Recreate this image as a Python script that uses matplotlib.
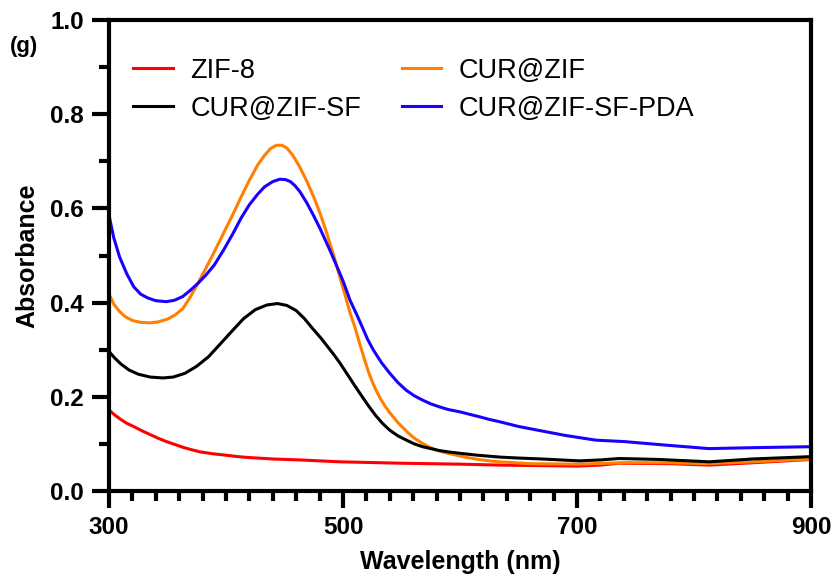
import matplotlib
matplotlib.use("Agg")
import matplotlib.pyplot as plt
from matplotlib.ticker import MultipleLocator, FixedLocator, FormatStrFormatter

plt.rcParams['font.family'] = ['Liberation Sans', 'DejaVu Sans']

# ---- data ----
wl_zif8 = [300, 305, 310, 315, 321, 328, 335, 342, 349, 356, 363, 370, 378, 389, 400, 410, 420, 440, 463, 497, 550, 600, 634, 700, 720, 736, 780, 813, 850, 900]
abs_zif8 = [0.172, 0.161, 0.152, 0.144, 0.137, 0.128, 0.120, 0.112, 0.105, 0.099, 0.093, 0.088, 0.083, 0.079, 0.076, 0.073, 0.071, 0.068, 0.066, 0.062, 0.059, 0.057, 0.055, 0.053, 0.055, 0.059, 0.058, 0.055, 0.060, 0.067]

wl_cur = [300, 304, 309, 314, 320, 327, 335, 342, 350, 356, 363, 369, 376, 383, 390, 398, 406, 413, 420, 427, 433, 438, 443, 448, 452, 457, 463, 469, 475, 480, 485, 489, 493, 498, 503, 506, 510, 514, 518, 522, 525, 528, 532, 536, 540, 547, 555, 561, 568, 574, 580, 588, 597, 606, 616, 625, 634, 660, 700, 740, 780, 810, 850, 900]
abs_cur = [0.418, 0.397, 0.381, 0.370, 0.362, 0.358, 0.357, 0.359, 0.365, 0.373, 0.387, 0.410, 0.441, 0.474, 0.508, 0.548, 0.588, 0.625, 0.660, 0.692, 0.713, 0.727, 0.734, 0.734, 0.728, 0.713, 0.688, 0.658, 0.624, 0.592, 0.556, 0.524, 0.492, 0.448, 0.405, 0.378, 0.349, 0.315, 0.282, 0.251, 0.232, 0.215, 0.196, 0.180, 0.166, 0.145, 0.125, 0.112, 0.101, 0.093, 0.087, 0.081, 0.076, 0.071, 0.067, 0.064, 0.062, 0.058, 0.057, 0.060, 0.060, 0.058, 0.062, 0.068]

wl_cursf = [300, 305, 310, 317, 325, 335, 346, 355, 365, 375, 385, 395, 406, 415, 425, 435, 444, 452, 460, 467, 474, 481, 487, 492, 497, 501, 506, 511, 517, 522, 528, 534, 540, 547, 555, 561, 568, 575, 582, 590, 600, 615, 634, 650, 670, 702, 720, 736, 770, 813, 850, 900]
abs_cursf = [0.296, 0.282, 0.270, 0.257, 0.248, 0.242, 0.240, 0.242, 0.250, 0.265, 0.285, 0.312, 0.342, 0.366, 0.385, 0.395, 0.398, 0.394, 0.383, 0.366, 0.345, 0.325, 0.306, 0.290, 0.273, 0.258, 0.239, 0.220, 0.198, 0.180, 0.160, 0.143, 0.129, 0.117, 0.107, 0.100, 0.094, 0.090, 0.086, 0.083, 0.080, 0.076, 0.072, 0.070, 0.068, 0.064, 0.066, 0.069, 0.067, 0.062, 0.068, 0.073]

wl_pda = [300, 304, 309, 315, 321, 327, 333, 340, 349, 356, 363, 369, 376, 383, 390, 398, 406, 413, 420, 427, 433, 440, 446, 451, 455, 459, 463, 469, 475, 480, 485, 489, 493, 500, 506, 512, 517, 521, 526, 533, 540, 547, 554, 561, 568, 575, 582, 590, 600, 608, 616, 625, 634, 650, 673, 690, 716, 740, 773, 813, 850, 898]
abs_pda = [0.585, 0.538, 0.497, 0.462, 0.434, 0.418, 0.410, 0.404, 0.402, 0.405, 0.413, 0.425, 0.441, 0.459, 0.480, 0.512, 0.547, 0.580, 0.608, 0.630, 0.646, 0.657, 0.662, 0.661, 0.657, 0.648, 0.636, 0.612, 0.584, 0.559, 0.532, 0.510, 0.487, 0.446, 0.405, 0.373, 0.345, 0.322, 0.299, 0.272, 0.250, 0.230, 0.214, 0.202, 0.193, 0.185, 0.179, 0.173, 0.168, 0.163, 0.158, 0.152, 0.147, 0.137, 0.126, 0.118, 0.108, 0.105, 0.098, 0.090, 0.092, 0.094]

labels = ["ZIF-8", "CUR@ZIF", "CUR@ZIF-SF", "CUR@ZIF-SF-PDA"]
colors = ["#ff0000", "#ff8000", "#000000", "#1a00ff"]
x_major = [300, 500, 700, 900]

fig = plt.figure(figsize=(8.33, 5.78), dpi=100)
ax = fig.add_axes([0.1309, 0.1505, 0.8427, 0.8149])

l1, = ax.plot(wl_zif8, abs_zif8, color=colors[0], lw=2.2, label=labels[0], solid_joinstyle='round')
l2, = ax.plot(wl_cur, abs_cur, color=colors[1], lw=2.2, label=labels[1], solid_joinstyle='round')
l3, = ax.plot(wl_cursf, abs_cursf, color=colors[2], lw=2.2, label=labels[2], solid_joinstyle='round')
l4, = ax.plot(wl_pda, abs_pda, color=colors[3], lw=2.2, label=labels[3], solid_joinstyle='round')

ax.set_xlim(300, 900)
ax.set_ylim(0.0, 1.0)
ax.xaxis.set_major_locator(FixedLocator(x_major))
ax.xaxis.set_minor_locator(MultipleLocator(20))
ax.yaxis.set_major_locator(MultipleLocator(0.2))
ax.yaxis.set_minor_locator(MultipleLocator(0.1))
ax.yaxis.set_major_formatter(FormatStrFormatter('%.1f'))

for s in ax.spines.values():
    s.set_linewidth(3.0)
ax.tick_params(which='major', direction='out', length=12, width=3.0, labelsize=17.5, pad=6)
ax.tick_params(which='minor', direction='out', length=7, width=3.0)
for lab in ax.get_xticklabels() + ax.get_yticklabels():
    lab.set_fontweight('bold')

ax.set_xlabel("Wavelength (nm)", fontsize=18, fontweight='bold', labelpad=8)
ax.set_ylabel("Absorbance", fontsize=18, fontweight='bold', labelpad=8)

fig.text(0.012, 0.910, "(g)", fontsize=16, fontweight='bold')

leg = ax.legend(handles=[l1, l3, l2, l4], ncol=2, frameon=False, fontsize=19.5,
                loc='upper left', bbox_to_anchor=(0.0, 0.972),
                handlelength=1.45, handletextpad=0.65, columnspacing=1.5,
                labelspacing=0.45, borderaxespad=0.5)
for h in leg.get_lines():
    h.set_linewidth(2.2)

fig.savefig("out.png", dpi=100)
